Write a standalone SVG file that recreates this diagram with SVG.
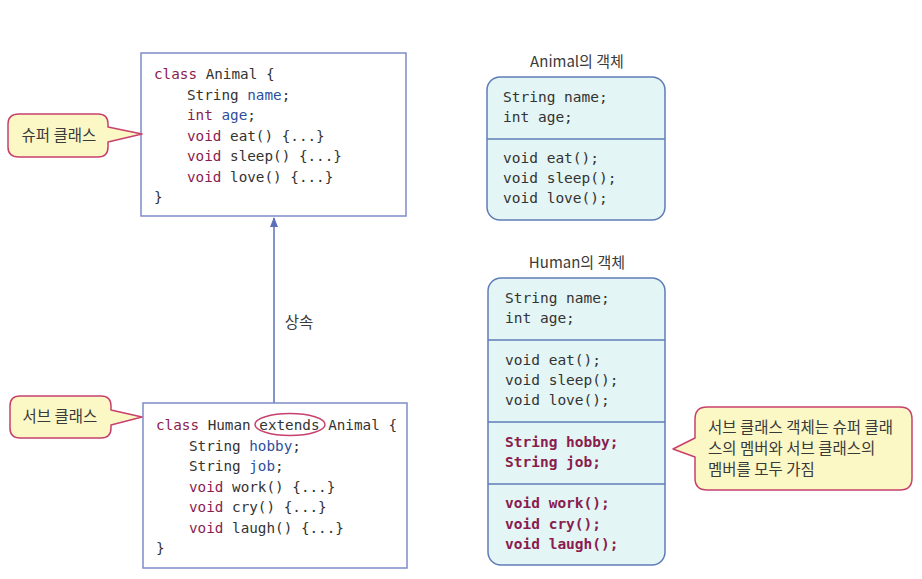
<svg xmlns="http://www.w3.org/2000/svg" width="922" height="579" viewBox="0 0 922 579">
<style>
.code{font-family:"DejaVu Sans Mono","Liberation Mono",monospace;font-size:14.3px;fill:#333}
.ocode{font-family:"DejaVu Sans Mono","Liberation Mono",monospace;font-size:14.5px;fill:#333}
.kw{fill:#8a1c4e}
.id{fill:#2d4f9c}
.red{fill:#8a1c4e;font-weight:bold}
.kr{font-family:"Noto Sans CJK KR","Noto Sans",sans-serif;font-size:15.5px;fill:#3a3a3a}
.title{font-family:"Noto Sans CJK KR","Noto Sans",sans-serif;font-size:15px;fill:#3a3a3a}
.cls{fill:#fff;stroke:#7d8cc6;stroke-width:1.5}
.obj{fill:#e3f5f5;stroke:#5f7cb8;stroke-width:1.5}
.div{stroke:#5f7cb8;stroke-width:1.3}
.callout{fill:#fbf8c6;stroke:#c8406c;stroke-width:1.5;stroke-linejoin:round}
</style>
<defs>
<marker id="ah" markerWidth="10" markerHeight="10" refX="9" refY="5" orient="auto" markerUnits="userSpaceOnUse">
<path d="M0,1 L10,5 L0,9 Z" fill="#5a70b8"/>
</marker>
</defs>
<rect width="922" height="579" fill="#fff"/>

<g id="connectors">
<line x1="274" y1="403" x2="274" y2="218" stroke="#5a70b8" stroke-width="1.5" marker-end="url(#ah)"/>
<text class="kr" x="299" y="328" text-anchor="middle">상속</text>
</g>

<g id="animal-class">
<rect class="cls" x="141" y="53" width="265" height="163"/>
<text class="code" x="154" y="79"><tspan class="kw">class</tspan> Animal {</text>
<text class="code" x="187" y="99.5">String <tspan class="id">name</tspan>;</text>
<text class="code" x="187" y="120"><tspan class="kw">int</tspan> <tspan class="id">age</tspan>;</text>
<text class="code" x="187" y="140.5"><tspan class="kw">void</tspan> eat() {...}</text>
<text class="code" x="187" y="161"><tspan class="kw">void</tspan> sleep() {...}</text>
<text class="code" x="187" y="181.5"><tspan class="kw">void</tspan> love() {...}</text>
<text class="code" x="154" y="202">}</text>
</g>

<g id="human-class">
<rect class="cls" x="143" y="403" width="264" height="165"/>
<ellipse cx="290" cy="424.5" rx="35" ry="11" fill="none" stroke="#c8406c" stroke-width="1.5"/>
<text class="code" x="156" y="430"><tspan class="kw">class</tspan> Human extends Animal {</text>
<text class="code" x="189" y="450.5">String <tspan class="id">hobby</tspan>;</text>
<text class="code" x="189" y="471">String <tspan class="id">job</tspan>;</text>
<text class="code" x="189" y="491.5"><tspan class="kw">void</tspan> work() {...}</text>
<text class="code" x="189" y="512"><tspan class="kw">void</tspan> cry() {...}</text>
<text class="code" x="189" y="532.5"><tspan class="kw">void</tspan> laugh() {...}</text>
<text class="code" x="156" y="553">}</text>
</g>

<g id="super-callout">
<path class="callout" d="M19,114 H98 Q108,114 108,124 V127 L142,134 L108,142 V147 Q108,157 98,157 H19 Q8,157 8,147 V124 Q8,114 19,114 Z"/>
<text class="kr" x="59" y="141" text-anchor="middle">슈퍼 클래스</text>
</g>

<g id="sub-callout">
<path class="callout" d="M20,396 H101 Q111,396 111,406 V410 L142,417 L111,425 V428 Q111,438 101,438 H20 Q10,438 10,428 V406 Q10,396 20,396 Z"/>
<text class="kr" x="60" y="422" text-anchor="middle">서브 클래스</text>
</g>

<g id="animal-object">
<text class="title" x="577" y="67" text-anchor="middle">Animal의 객체</text>
<rect class="obj" x="487" y="77" width="178" height="143" rx="13"/>
<line class="div" x1="487" y1="139" x2="665" y2="139"/>
<text class="ocode" x="503" y="102">String name;</text>
<text class="ocode" x="503" y="122">int age;</text>
<text class="ocode" x="503" y="163">void eat();</text>
<text class="ocode" x="503" y="183">void sleep();</text>
<text class="ocode" x="503" y="203">void love();</text>
</g>

<g id="human-object">
<text class="title" x="577" y="268" text-anchor="middle">Human의 객체</text>
<rect class="obj" x="488" y="278" width="177" height="287" rx="13"/>
<line class="div" x1="488" y1="340" x2="665" y2="340"/>
<line class="div" x1="488" y1="422" x2="665" y2="422"/>
<line class="div" x1="488" y1="484" x2="665" y2="484"/>
<text class="ocode" x="505" y="303">String name;</text>
<text class="ocode" x="505" y="323">int age;</text>
<text class="ocode" x="505" y="365">void eat();</text>
<text class="ocode" x="505" y="385">void sleep();</text>
<text class="ocode" x="505" y="405">void love();</text>
<text class="ocode red" x="505" y="447">String hobby;</text>
<text class="ocode red" x="505" y="467">String job;</text>
<text class="ocode red" x="505" y="508">void work();</text>
<text class="ocode red" x="505" y="529">void cry();</text>
<text class="ocode red" x="505" y="549">void laugh();</text>
</g>

<g id="member-callout">
<path class="callout" d="M707,407 H900 Q912,407 912,419 V478 Q912,490 900,490 H707 Q695,490 695,478 V457 L673,449 L695,438 V419 Q695,407 707,407 Z"/>
<text class="kr" x="708" y="433">서브 클래스 객체는 슈퍼 클래</text>
<text class="kr" x="708" y="454">스의 멤버와 서브 클래스의</text>
<text class="kr" x="708" y="475">멤버를 모두 가짐</text>
</g>
</svg>
